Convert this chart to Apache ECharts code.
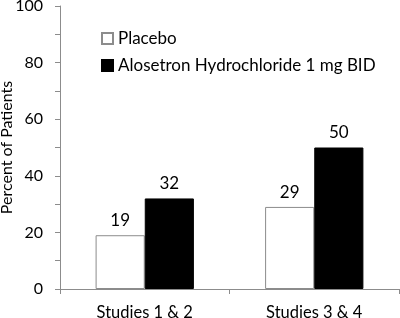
<!DOCTYPE html>
<html><head><meta charset="utf-8">
<script src="https://cdn.jsdelivr.net/npm/echarts@6/dist/echarts.min.js"></script>
<style>html,body{margin:0;padding:0;background:#fff}#c{width:400px;height:318px}</style>
</head><body><div id="c"></div>
<script>
const categories = ['Studies 1 & 2', 'Studies 3 & 4'];
const placebo = [19, 29];
const alosetron = [32, 50];
const seriesNames = ['Placebo', 'Alosetron Hydrochloride 1 mg BID'];
const yAxisName = 'Percent of Patients';
const FONT = 'Lato';
const chart = echarts.init(document.getElementById('c'), null, {renderer: 'canvas'});
chart.setOption({
  animation: false,
  textStyle: {fontFamily: FONT, color: '#000'},
  grid: {left: 60, right: 1, top: 6, bottom: 29, containLabel: false, outerBoundsMode: 'none'},
  legend: {
    orient: 'vertical', left: 101, top: 30, padding: 0, itemWidth: 11, itemHeight: 11, itemGap: 10,
    icon: 'rect',
    textStyle: {fontFamily: FONT, fontSize: 17, color: '#000'},
    data: seriesNames
  },
  xAxis: {
    type: 'category', data: categories,
    axisLine: {lineStyle: {color: '#8c8c8c'}},
    axisTick: {show: true, alignWithLabel: false, length: 5, lineStyle: {color: '#8c8c8c'}},
    axisLabel: {fontFamily: FONT, fontSize: 16.5, color: '#000', margin: 15}
  },
  yAxis: {
    type: 'value', min: 0, max: 100, interval: 20,
    name: yAxisName, nameLocation: 'middle', nameGap: 45, nameRotate: 90, nameMoveOverlap: false,
    nameTextStyle: {fontFamily: FONT, fontSize: 16, color: '#000'},
    axisLine: {show: true, lineStyle: {color: '#8c8c8c'}},
    axisTick: {show: true, length: 5, lineStyle: {color: '#8c8c8c'}},
    minorTick: {show: true, splitNumber: 2, length: 5, lineStyle: {color: '#8c8c8c'}},
    splitLine: {show: false},
    axisLabel: {fontFamily: FONT, fontSize: 16, color: '#000', margin: 17}
  },
  series: [
    {name: seriesNames[0], type: 'bar', data: placebo, barGap: '0%', barCategoryGap: '42%',
     itemStyle: {color: '#fff', borderColor: '#8c8c8c', borderWidth: 1},
     label: {show: true, position: 'top', distance: 6, fontFamily: FONT, fontSize: 17, color: '#000'}},
    {name: seriesNames[1], type: 'bar', data: alosetron,
     itemStyle: {color: '#000', borderColor: '#000', borderWidth: 1},
     label: {show: true, position: 'top', distance: 6, fontFamily: FONT, fontSize: 17, color: '#000'}}
  ]
});
</script></body></html>
